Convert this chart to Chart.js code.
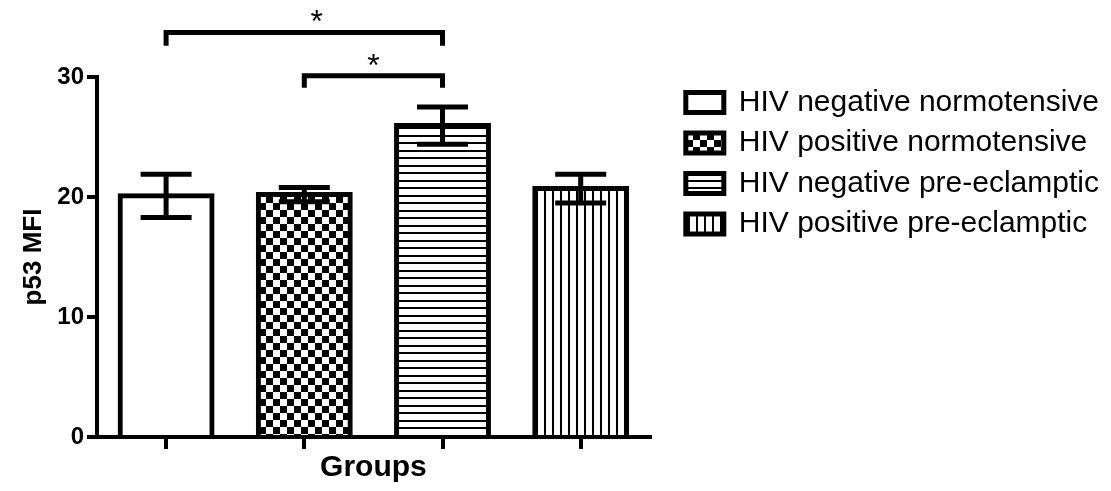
<!DOCTYPE html>
<html>
<head>
<meta charset="utf-8">
<script src="https://cdn.jsdelivr.net/npm/chart.js@4/dist/chart.umd.min.js"></script>
<style>
  html, body { margin: 0; padding: 0; background: #fff; }
  canvas { display: block; }
</style>
</head>
<body>
<canvas id="chart" width="1111" height="491"></canvas>
<script>
const groups = ['HIV negative normotensive', 'HIV positive normotensive', 'HIV negative pre-eclamptic', 'HIV positive pre-eclamptic']
const means = [20.1, 20.2, 25.95, 20.7]
const sem = [1.8, 0.6, 1.55, 1.2]
const yTicks = [0, 10, 20, 30]

// significance brackets (group index pairs), bracket height / leg end / star (y units)
const sigPairs = [[0, 2], [1, 2]]
const sigLabels = ['*', '*']
const sigLevels = [33.7, 30.1]
const sigLegEnds = [32.6, 29.1]
const starX = [1.09, 1.5]
const starY = [35.0, 31.3]

const FONT = "'Liberation Sans', Arial, sans-serif"
Chart.defaults.font.family = FONT
Chart.defaults.color = '#000'

function makePattern(w, h, draw) {
    const c = document.createElement('canvas')
    c.width = w
    c.height = h
    const g = c.getContext('2d')
    g.fillStyle = '#fff'
    g.fillRect(0, 0, w, h)
    g.fillStyle = '#000'
    draw(g)
    return document.getElementById('chart').getContext('2d').createPattern(c, 'repeat')
}

const fills = [
    '#fff',
    // checkerboard
    makePattern(14, 14, g => { g.fillRect(0, 0, 7, 7); g.fillRect(7, 7, 7, 7) }),
    // horizontal lines
    makePattern(15, 15, g => { g.fillRect(0, 0, 15, 2); g.fillRect(0, 7, 15, 2) }),
    // vertical lines
    makePattern(8, 8, g => { g.fillRect(0, 0, 2, 8) })
]

const extras = {
    id: 'extras',
    afterDatasetsDraw(chart) {
        const {ctx, scales: {x, y}} = chart
        ctx.save()
        ctx.strokeStyle = '#000'
        ctx.lineWidth = 5
        ctx.lineCap = 'butt'
        ctx.lineJoin = 'miter'
        // error bars (mean +/- SEM)
        means.forEach((m, i) => {
            const cx = x.getPixelForValue(i)
            const top = y.getPixelForValue(m + sem[i])
            const bot = y.getPixelForValue(m - sem[i])
            ctx.beginPath()
            ctx.moveTo(cx, top); ctx.lineTo(cx, bot)
            ctx.moveTo(cx - 25.5, top); ctx.lineTo(cx + 25.5, top)
            ctx.moveTo(cx - 25.5, bot); ctx.lineTo(cx + 25.5, bot)
            ctx.stroke()
        })
        // significance brackets
        ctx.fillStyle = '#000'
        ctx.font = '32px ' + FONT
        ctx.textAlign = 'center'
        ctx.textBaseline = 'alphabetic'
        sigPairs.forEach(([a, b], k) => {
            const xa = x.getPixelForValue(a)
            const xb = x.getPixelForValue(b)
            const yl = y.getPixelForValue(sigLevels[k])
            const ye = y.getPixelForValue(sigLegEnds[k])
            ctx.beginPath()
            ctx.moveTo(xa, ye)
            ctx.lineTo(xa, yl)
            ctx.lineTo(xb, yl)
            ctx.lineTo(xb, ye)
            ctx.stroke()
            ctx.fillText(sigLabels[k], x.getPixelForValue(starX[k]), y.getPixelForValue(starY[k]) + 0.47 * 32)
        })
        ctx.restore()
    }
}

new Chart('chart', {
    type: 'bar',
    data: {
        labels: groups,
        datasets: [{
            data: means,
            backgroundColor: fills,
            borderColor: '#000',
            borderWidth: 5,
            borderSkipped: 'start',
            inflateAmount: 2.5,
            barPercentage: 0.665,
            categoryPercentage: 1
        }]
    },
    options: {
        responsive: false,
        animation: false,
        devicePixelRatio: 1,
        layout: { padding: { top: 77, right: 2, left: 0, bottom: 0 } },
        plugins: {
            tooltip: { enabled: false },
            legend: {
                position: 'right',
                align: 'start',
                maxWidth: 600,
                onClick: null,
                labels: {
                    boxWidth: 38,
                    boxHeight: 20,
                    padding: 10.5,
                    color: '#000',
                    font: { size: 30 },
                    generateLabels: () => groups.map((g, i) => ({
                        text: g,
                        fillStyle: fills[i],
                        strokeStyle: '#000',
                        lineWidth: 5,
                        fontColor: '#000',
                        hidden: false,
                        index: i,
                        datasetIndex: 0
                    }))
                }
            }
        },
        scales: {
            x: {
                grid: { display: true, drawOnChartArea: false, offset: false, color: '#000', lineWidth: 4, tickLength: 12 },
                border: { color: '#000', width: 4 },
                ticks: { display: false },
                title: { display: true, text: 'Groups', color: '#000', font: { size: 30, weight: 'bold' }, padding: { top: 0, bottom: 5 } },
                afterFit: s => { s.height = 54 }
            },
            y: {
                min: 0,
                max: 30,
                afterBuildTicks: s => { s.ticks = yTicks.map(v => ({ value: v })) },
                ticks: { color: '#000', font: { size: 24, weight: 'bold' }, padding: 3 },
                grid: { drawOnChartArea: false, color: '#000', lineWidth: 4, tickLength: 10 },
                border: { color: '#000', width: 4 },
                title: { display: true, text: 'p53 MFI', color: '#000', font: { size: 26, weight: 'bold' }, padding: { top: 18, bottom: 0 } },
                afterFit: s => { s.width = 97 }
            },
            y2: {
                position: 'right',
                grid: { display: false },
                ticks: { display: false },
                border: { display: false },
                afterFit: s => { s.width = 25.5 }
            }
        }
    },
    plugins: [extras]
})
</script>
</body>
</html>
